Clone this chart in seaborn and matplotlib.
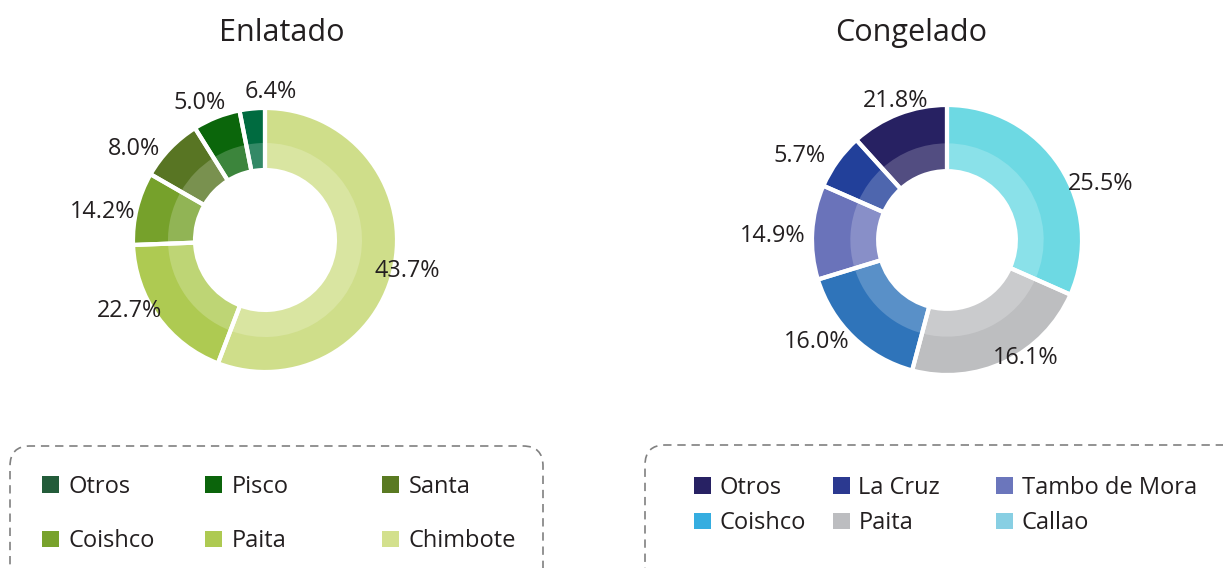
import numpy as np
import matplotlib
matplotlib.use('Agg')
import matplotlib.pyplot as plt
import seaborn as sns
from matplotlib.patches import FancyBboxPatch, Patch
from matplotlib.colors import to_rgb

# Enlatado - wedges clockwise from 12 o'clock
enl_names = ['Chimbote', 'Paita', 'Coishco', 'Santa', 'Pisco', 'Otros']
enl_shares = [55.8, 18.6, 8.9, 7.8, 5.8, 3.1]          # wedge sizes as drawn
enl_labels = ['43.7%', '22.7%', '14.2%', '8.0%', '5.0%', '6.4%']
enl_colors = ['#CFDE8A', '#AECA52', '#76A12B', '#587523', '#0B660B', '#006B40']
enl_leg_names = ['Otros', 'Pisco', 'Santa', 'Coishco', 'Paita', 'Chimbote']
enl_leg_colors = ['#235C3A', '#0B640B', '#5A7A22', '#78A22C', '#AECA52', '#D3E08D']

# Congelado
con_names = ['Callao', 'Paita', 'Coishco', 'Tambo de Mora', 'La Cruz', 'Otros']
con_shares = [31.6, 22.5, 16.1, 11.3, 6.7, 11.7]
con_labels = ['25.5%', '16.1%', '16.0%', '14.9%', '5.7%', '21.8%']
con_colors = ['#6DD9E3', '#BDBEC0', '#2F74BA', '#6A73BA', '#22409A', '#272162']
con_leg_names = ['Otros', 'La Cruz', 'Tambo de Mora', 'Coishco', 'Paita', 'Callao']
con_leg_colors = ['#272163', '#2B3990', '#6B76BC', '#35ADE0', '#BCBDC0', '#88CFE3']

sns.set_theme(style='white')
plt.rcParams['font.family'] = ['Open Sans', 'DejaVu Sans']
TXT = '#231F20'

W, H = 1223, 568
fig = plt.figure(figsize=(W / 100, H / 100), dpi=100)


def lighten(c, amt=0.2):
    rgb = np.array(to_rgb(c))
    return tuple(rgb + (1 - rgb) * amt)


def donut(cx, cy, R, shares, labels, colors, band, hole, label_r, label_shift):
    # cx, cy, R in pixels (cy from top)
    s = 1.5
    ax = fig.add_axes([(cx - s * R) / W, (H - cy - s * R) / H, 2 * s * R / W, 2 * s * R / H])
    kw = dict(startangle=90, counterclock=False)
    wedges, _ = ax.pie(shares, colors=colors, radius=1,
                       wedgeprops=dict(width=1 - hole, linewidth=0), **kw)
    ax.pie(shares, colors=[lighten(c) for c in colors], radius=band,
           wedgeprops=dict(width=band - hole, linewidth=0), **kw)
    ax.pie(shares, colors=['none'] * len(shares), radius=1,
           wedgeprops=dict(width=1 - hole, edgecolor='white', linewidth=3), **kw)
    for w, lab, r, d in zip(wedges, labels, label_r, label_shift):
        mid = np.deg2rad((w.theta1 + w.theta2) / 2 + d)
        ax.text(r * np.cos(mid), r * np.sin(mid), lab, ha='center', va='center',
                fontsize=16.8, color=TXT)
    ax.set_xlim(-s, s)
    ax.set_ylim(-s, s)
    ax.set_aspect('equal')
    ax.axis('off')
    return ax


donut(265, 240, 132, enl_shares, enl_labels, enl_colors, 0.735, 0.53,
      [1.10, 1.16, 1.25, 1.21, 1.15, 1.12], [-2, -8, 4, 9, 4, -8])
donut(947, 240, 135, con_shares, con_labels, con_colors, 0.716, 0.51,
      [1.21, 1.05, 1.23, 1.29, 1.26, 1.10], [-13, 8, -8, 2, 6, -1])

fig.text(282 / W, 1 - 41 / H, 'Enlatado', ha='center', va='baseline', fontsize=22, color=TXT)
fig.text(911 / W, 1 - 41 / H, 'Congelado', ha='center', va='baseline', fontsize=22, color=TXT)

# dashed rounded legend boxes (partly cut at the bottom)
for x0, x1, top in [(10, 543, 446), (645, 1245, 445)]:
    box = FancyBboxPatch((x0 / 100, -0.3), (x1 - x0) / 100, (H - top) / 100 + 0.3,
                         boxstyle='round,pad=0,rounding_size=0.2',
                         transform=fig.dpi_scale_trans, facecolor='none',
                         edgecolor='#808080', linewidth=1.2, linestyle=(0, (5, 3.5)),
                         clip_on=False)
    fig.patches.append(box)


def legend_cols(names, colors, xs, ymid, spacing, pad):
    for j, x in enumerate(xs):
        idx = [j, j + 3]
        handles = [Patch(facecolor=colors[i], edgecolor='none') for i in idx]
        fig.legend(handles, [names[i] for i in idx], loc='center left',
                   bbox_to_anchor=(x / W, 1 - ymid / H), bbox_transform=fig.transFigure,
                   frameon=False, borderpad=0, borderaxespad=0,
                   handlelength=0.7, handleheight=0.7, handletextpad=pad,
                   labelspacing=spacing, fontsize=17, labelcolor=TXT)


legend_cols(enl_leg_names, enl_leg_colors, [42, 205, 382], 514, 1.3, 0.42)
legend_cols(con_leg_names, con_leg_colors, [694, 833, 996], 505.5, 0.48, 0.38)

fig.savefig('out.png', dpi=100)
